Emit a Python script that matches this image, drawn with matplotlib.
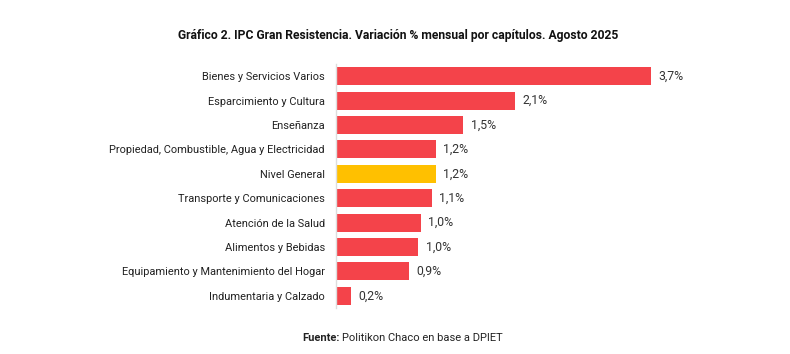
import matplotlib.pyplot as plt

categorias = [
    'Bienes y Servicios Varios',
    'Esparcimiento y Cultura',
    'Enseñanza',
    'Propiedad, Combustible, Agua y Electricidad',
    'Nivel General',
    'Transporte y Comunicaciones',
    'Atención de la Salud',
    'Alimentos y Bebidas',
    'Equipamiento y Mantenimiento del Hogar',
    'Indumentaria y Calzado',
]
valores = [3.72, 2.11, 1.50, 1.18, 1.18, 1.13, 1.00, 0.97, 0.86, 0.18]
etiquetas = ['3,7%', '2,1%', '1,5%', '1,2%', '1,2%', '1,1%', '1,0%', '1,0%', '0,9%', '0,2%']

rojo = '#F4434A'
amarillo = '#FFC000'

plt.rcParams['font.family'] = ['Roboto', 'DejaVu Sans']

fig = plt.figure(figsize=(7.9, 3.54), dpi=100)
ax = fig.add_axes([336 / 790, 46 / 354, 384 / 790, 244 / 354])

pos = list(range(len(categorias)))
colores = [amarillo if c == 'Nivel General' else rojo for c in categorias]
ax.barh(pos, valores, height=0.74, color=colores)

for p, v, t in zip(pos, valores, etiquetas):
    ax.text(v + 0.09, p, t, va='center', ha='left', fontsize=8.8, color='#333333')

ax.set_yticks(pos)
ax.set_yticklabels(categorias, fontsize=7.9, color='#222222')
ax.set_ylim(9.5, -0.5)
ax.set_xlim(0, 384 / 84.6)
ax.set_xticks([])
ax.tick_params(axis='y', length=0, pad=8)
for s in ['top', 'right', 'bottom']:
    ax.spines[s].set_visible(False)
ax.spines['left'].set_color('#dddddd')
ax.spines['left'].set_linewidth(1)

fig.text(398 / 790, 1 - 35 / 354, 'Gráfico 2. IPC Gran Resistencia. Variación % mensual por capítulos. Agosto 2025',
         ha='center', va='center', fontsize=8.7, fontweight='bold', color='#111111')

fig.text(340 / 790, 1 - 338 / 354, 'Fuente:', ha='right', va='center',
         fontsize=8, fontweight='bold', color='#222222')
fig.text(342 / 790, 1 - 338 / 354, 'Politikon Chaco en base a DPIET', ha='left', va='center',
         fontsize=8, color='#222222')

fig.savefig('out.png', dpi=100)
